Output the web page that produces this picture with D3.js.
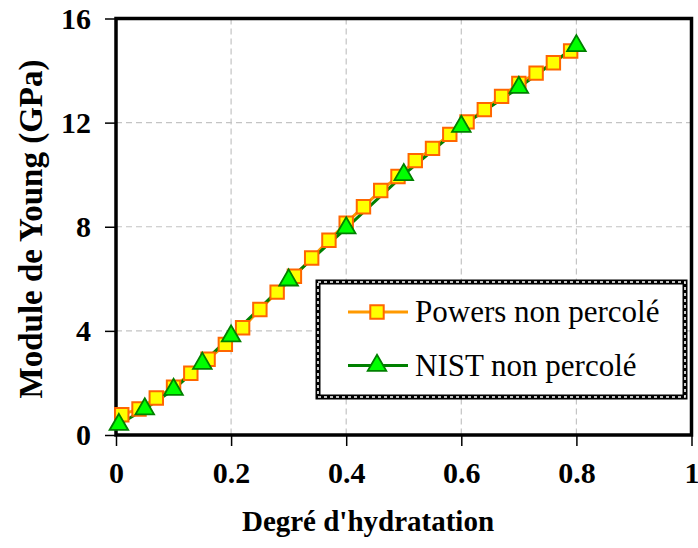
<!DOCTYPE html>
<html>
<head>
<meta charset="utf-8">
<script src="https://cdn.jsdelivr.net/npm/d3@7"></script>
<style>
  html, body { margin: 0; padding: 0; background: #fff; }
  svg { display: block; }
  text { font-family: "Liberation Serif", "Times New Roman", serif; fill: #000; }
</style>
</head>
<body>
<svg id="chart" width="698" height="548"></svg>
<script>
// Degree of hydration vs Young's modulus (GPa)
const powersX = [0.01, 0.04, 0.07, 0.10, 0.13, 0.16, 0.19, 0.22, 0.25, 0.28, 0.31, 0.34, 0.37, 0.40,
                 0.43, 0.46, 0.49, 0.52, 0.55, 0.58, 0.61, 0.64, 0.67, 0.70, 0.73, 0.76, 0.79];
const powersY = [0.78, 1.00, 1.42, 1.84, 2.37, 2.91, 3.48, 4.12, 4.82, 5.49, 6.10, 6.80, 7.48, 8.14,
                 8.77, 9.39, 9.93, 10.54, 11.01, 11.55, 12.03, 12.50, 13.01, 13.50, 13.90, 14.30, 14.75];
const nistX = [0.005, 0.05, 0.10, 0.15, 0.20, 0.30, 0.40, 0.50, 0.60, 0.70, 0.80];
const nistY = [0.40, 1.00, 1.75, 2.75, 3.80, 5.95, 7.95, 10.00, 11.85, 13.35, 14.95];
const xTicks = [0, 0.2, 0.4, 0.6, 0.8, 1];
const yTicks = [0, 4, 8, 12, 16];
const seriesNames = ["Powers non percolé", "NIST non percolé"];
const xTitle = "Degré d'hydratation";
const yTitle = "Module de Young (GPa)";

const powers = powersX.map((x, i) => ({ x, y: powersY[i] }));
const nist = nistX.map((x, i) => ({ x, y: nistY[i] }));

const svg = d3.select("#chart");
const plotL = 116, plotR = 691.5, plotT = 18.5, plotB = 435;

const x = d3.scaleLinear().domain([0, 1]).range([plotL, plotR]);
const y = d3.scaleLinear().domain([0, 16]).range([plotB, plotT]);

// dashed grid
const grid = svg.append("g");
grid.selectAll("line.gx").data(xTicks.filter(d => d > 0 && d < 1)).join("line")
  .attr("x1", d => x(d)).attr("x2", d => x(d)).attr("y1", plotT).attr("y2", plotB)
  .attr("stroke", "#c4c4c4").attr("stroke-width", 1.2).attr("stroke-dasharray", "6,4");
grid.selectAll("line.gy").data(yTicks.filter(d => d > 0 && d < 16)).join("line")
  .attr("y1", d => y(d)).attr("y2", d => y(d)).attr("x1", plotL).attr("x2", plotR)
  .attr("stroke", "#c4c4c4").attr("stroke-width", 1.2).attr("stroke-dasharray", "6,4");

// axes
const xAxis = d3.axisBottom(x).tickValues(xTicks).tickSize(11).tickPadding(16).tickFormat(d3.format("~g"));
const yAxis = d3.axisLeft(y).tickValues(yTicks).tickSize(11).tickPadding(14).tickFormat(d3.format("~g"));

const gx = svg.append("g").attr("transform", `translate(0,${plotB})`).call(xAxis);
const gy = svg.append("g").attr("transform", `translate(${plotL},0)`).call(yAxis);
[gx, gy].forEach(g => {
  g.select(".domain").remove();
  g.attr("font-family", null);
  g.selectAll(".tick line").attr("stroke", "#000").attr("stroke-width", 1.5);
  g.selectAll(".tick text")
    .attr("font-weight", "bold").attr("font-size", 30).attr("fill", "#000");
});
gx.selectAll(".tick text").attr("dy", "0.71em");

// plot frame
svg.append("rect").attr("x", plotL).attr("y", plotT)
  .attr("width", plotR - plotL).attr("height", plotB - plotT)
  .attr("fill", "none").attr("stroke", "#000").attr("stroke-width", 3.5);

// series lines
const line = d3.line().x(d => x(d.x)).y(d => y(d.y));
svg.append("path").datum(powers).attr("d", line)
  .attr("fill", "none").attr("stroke", "#ff9900").attr("stroke-width", 3);
svg.append("path").datum(nist).attr("d", line)
  .attr("fill", "none").attr("stroke", "#008000").attr("stroke-width", 3);

// markers
const sq = d3.symbol().type(d3.symbolSquare).size(180);
const tri = d3.symbol().type(d3.symbolTriangle).size(150);
svg.append("g").selectAll("path").data(powers).join("path")
  .attr("d", sq).attr("transform", d => `translate(${x(d.x)},${y(d.y)})`)
  .attr("fill", "#ffff00").attr("stroke", "#ff6600").attr("stroke-width", 2);
svg.append("g").selectAll("path").data(nist).join("path")
  .attr("d", tri).attr("transform", d => `translate(${x(d.x)},${y(d.y)})`)
  .attr("fill", "#00ff00").attr("stroke", "#008000").attr("stroke-width", 1.8);

// axis titles
svg.append("text").attr("x", 368).attr("y", 531)
  .attr("text-anchor", "middle").attr("font-weight", "bold").attr("font-size", 29)
  .text(xTitle);
svg.append("text").attr("transform", "translate(42,229) rotate(-90)")
  .attr("text-anchor", "middle").attr("font-weight", "bold").attr("font-size", 33)
  .text(yTitle);

// legend
const lg = svg.append("g");
const lx = 318, ly = 282, lw = 367, lh = 115;
lg.append("rect").attr("x", lx).attr("y", ly).attr("width", lw).attr("height", lh)
  .attr("fill", "#fff").attr("stroke", "#000").attr("stroke-width", 5);
lg.append("rect").attr("x", lx).attr("y", ly).attr("width", lw).attr("height", lh)
  .attr("fill", "none").attr("stroke", "#fff").attr("stroke-width", 1.6).attr("stroke-dasharray", "3,3");

const items = [
  { name: seriesNames[0], color: "#ff9900", sym: sq, fill: "#ffff00", stroke: "#ff6600", sw: 2 },
  { name: seriesNames[1], color: "#008000", sym: tri, fill: "#00ff00", stroke: "#008000", sw: 1.8 }
];
items.forEach((it, i) => {
  const cy = 312 + i * 53.5;
  lg.append("line").attr("x1", 348).attr("x2", 408).attr("y1", cy).attr("y2", cy)
    .attr("stroke", it.color).attr("stroke-width", 3);
  lg.append("path").attr("d", it.sym).attr("transform", `translate(377,${cy})`)
    .attr("fill", it.fill).attr("stroke", it.stroke).attr("stroke-width", it.sw);
  lg.append("text").attr("x", 415).attr("y", cy).attr("dy", "0.33em")
    .attr("font-size", 31).text(it.name);
});
</script>
</body>
</html>
